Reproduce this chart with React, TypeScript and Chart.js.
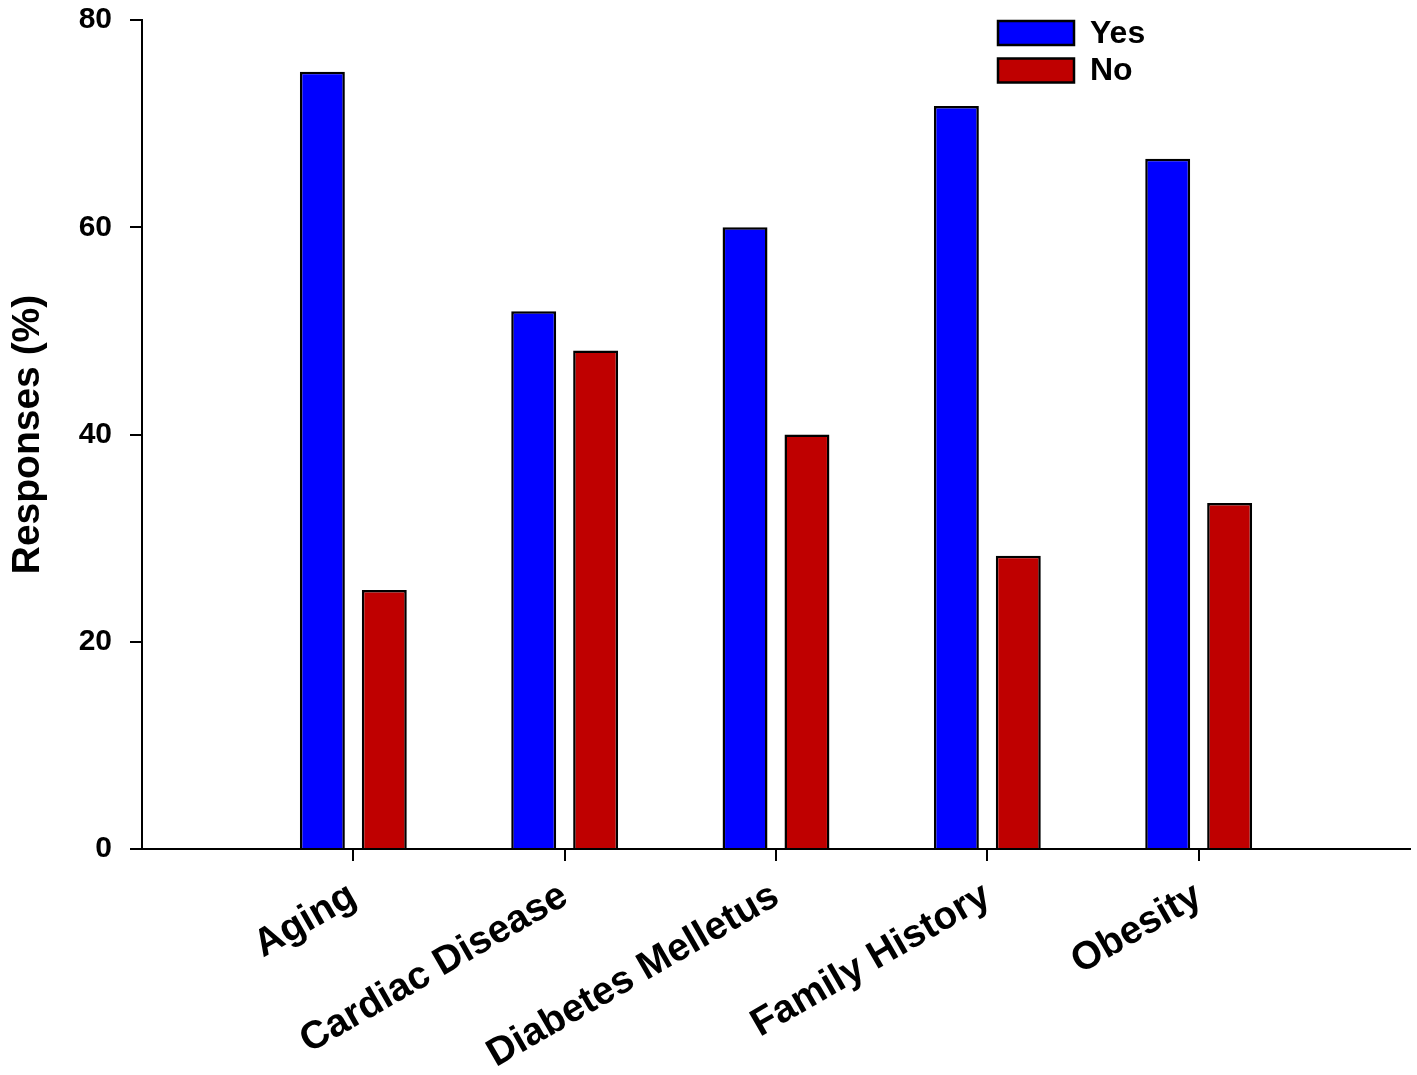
import React, { useEffect, useRef } from 'react';
import { Chart, registerables } from 'chart.js';

Chart.register(...registerables);

const categories = ['Aging', 'Cardiac Disease', 'Diabetes Melletus', 'Family History', 'Obesity'];
const yesValues = [75, 51.9, 60, 71.7, 66.6];
const noValues = [25, 48.1, 40, 28.3, 33.4];
const seriesNames = ['Yes', 'No'];
const seriesColors = ['#0000FF', '#BF0000'];
const yTickValues = [0, 20, 40, 60, 80];
const yTitle = 'Responses (%)';

const FONT = '"Liberation Sans", Arial, Helvetica, sans-serif';

const boxLegend = {
  id: 'boxLegend',
  afterDraw(chart: any) {
    const ctx = chart.ctx;
    const { left, top } = chart.chartArea;
    const bx = left + 856;
    const bw = 76;
    const bh = 24;
    const rowGap = 37.5;
    ctx.save();
    chart.data.datasets.forEach((ds: any, i: number) => {
      const by = top + 1 + i * rowGap;
      ctx.fillStyle = ds.backgroundColor;
      ctx.fillRect(bx, by, bw, bh);
      ctx.lineWidth = 2.5;
      ctx.strokeStyle = '#000';
      ctx.strokeRect(bx, by, bw, bh);
      ctx.fillStyle = '#000';
      ctx.font = `bold 32px ${FONT}`;
      ctx.textAlign = 'left';
      ctx.textBaseline = 'middle';
      ctx.fillText(ds.label, bx + 92, by + bh / 2 + 1);
    });
    ctx.restore();
  },
};

export default function App() {
  const canvasRef = useRef<HTMLCanvasElement | null>(null);

  useEffect(() => {
    document.body.style.margin = '0';
    const canvas = canvasRef.current;
    if (!canvas) return;
    // padded category list: empty slots on both ends give a full category gap to each axis end
    const labels = ['', ...categories, ''];
    const pad = (arr: number[]) => [null, ...arr, null];
    const lastIdx = labels.length - 1;

    const chart = new Chart(canvas, {
      type: 'bar',
      data: {
        labels,
        datasets: [
          {
            label: seriesNames[0],
            data: pad(yesValues) as any,
            backgroundColor: seriesColors[0],
            borderColor: '#000',
            borderWidth: 2.5,
            categoryPercentage: 0.586,
            barPercentage: 0.726,
          },
          {
            label: seriesNames[1],
            data: pad(noValues) as any,
            backgroundColor: seriesColors[1],
            borderColor: '#000',
            borderWidth: 2.5,
            categoryPercentage: 0.586,
            barPercentage: 0.726,
          },
        ],
      },
      options: {
        responsive: false,
        animation: false,
        devicePixelRatio: 1,
        layout: { padding: { top: 20, right: 7, left: 0, bottom: 0 } },
        plugins: {
          legend: { display: false },
          tooltip: { enabled: false },
        },
        scales: {
          x: {
            type: 'category',
            offset: false,
            afterFit: (scale: any) => {
              scale.height = 226;
              scale.paddingLeft = 0;
              scale.paddingRight = 0;
            },
            grid: {
              display: true,
              offset: false,
              drawOnChartArea: false,
              drawTicks: true,
              tickLength: 12,
              lineWidth: 2,
              color: '#000',
              tickColor: (c: any) => (c.index === 0 || c.index === lastIdx ? 'rgba(0,0,0,0)' : '#000'),
            },
            border: { display: true, color: '#000', width: 2 },
            ticks: {
              autoSkip: false,
              minRotation: 30,
              maxRotation: 30,
              padding: 12,
              color: '#000',
              font: { family: FONT, size: 39, weight: 'bold' },
            },
          },
          y: {
            min: 0,
            max: 80,
            afterFit: (scale: any) => {
              scale.width = 142;
              scale.paddingTop = 0;
              scale.paddingBottom = 0;
            },
            afterBuildTicks: (scale: any) => {
              scale.ticks = yTickValues.map((v) => ({ value: v }));
            },
            grid: {
              display: true,
              drawOnChartArea: false,
              drawTicks: true,
              tickLength: 12,
              lineWidth: 2,
              color: '#000',
              tickColor: '#000',
            },
            border: { display: true, color: '#000', width: 2 },
            ticks: {
              padding: 18,
              color: '#000',
              font: { family: FONT, size: 30, weight: 'bold' },
            },
            title: {
              display: true,
              text: yTitle,
              color: '#000',
              padding: { top: 5, bottom: 0 },
              font: { family: FONT, size: 39, weight: 'bold' },
            },
          },
        },
      },
      plugins: [boxLegend],
    });

    return () => {
      chart.destroy();
    };
  }, []);

  return (
    <div style={{ position: 'absolute', left: 0, top: 0, width: 1417, height: 1075, background: '#fff' }}>
      <canvas ref={canvasRef} width={1417} height={1075} style={{ width: 1417, height: 1075, display: 'block' }} />
    </div>
  );
}
